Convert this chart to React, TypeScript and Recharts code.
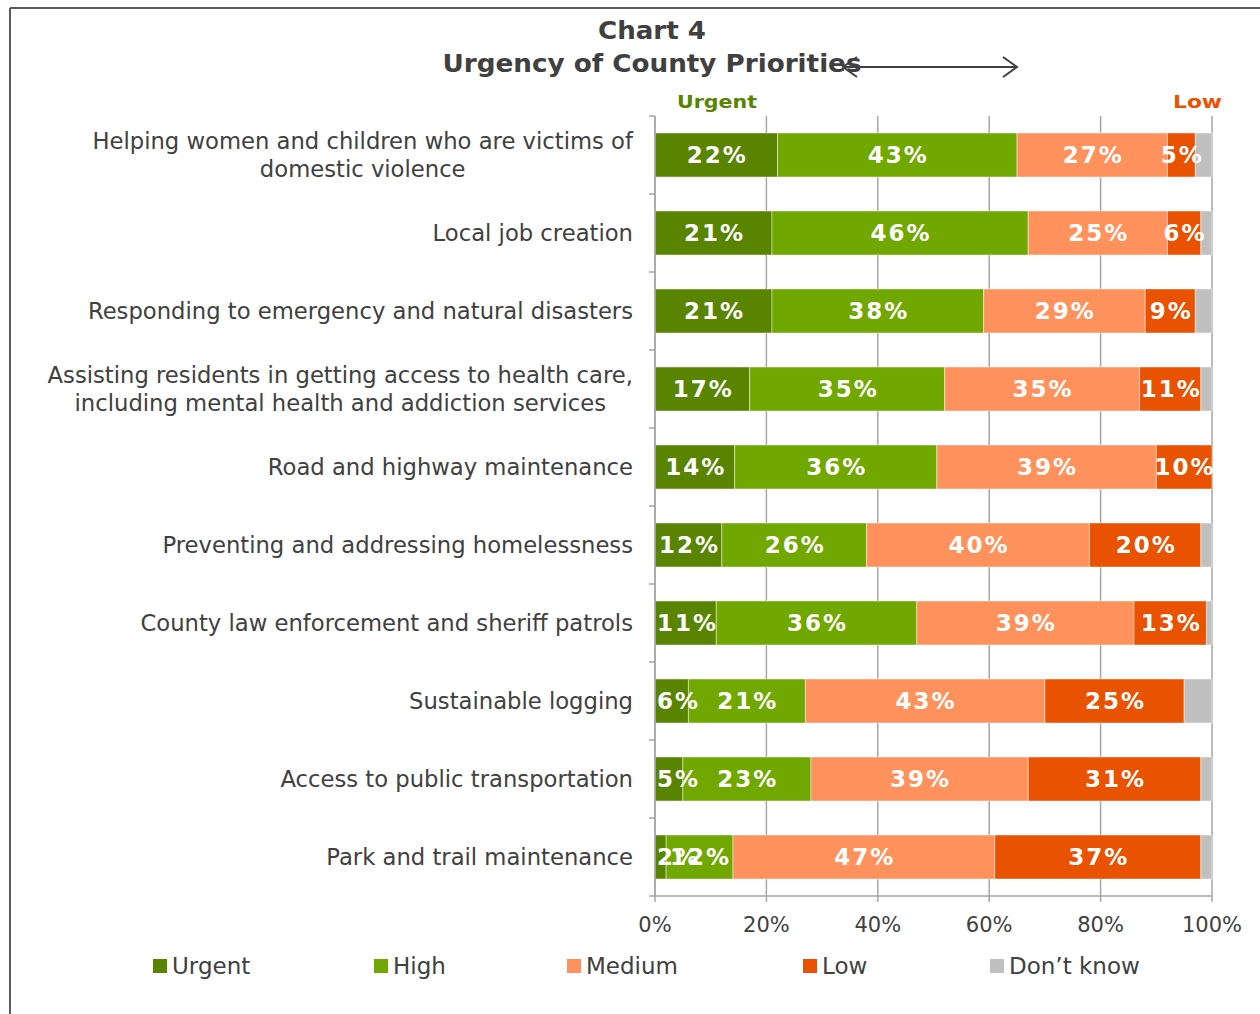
import React from "react";
import {
  BarChart,
  Bar,
  XAxis,
  YAxis,
  CartesianGrid,
  LabelList,
} from "recharts";

const FONT = '"DejaVu Sans", Verdana, sans-serif';
const TEXT = "#404040";
const GRID = "#a6a6a6";

const CATEGORIES = [
  "Helping women and children who are victims of\ndomestic violence",
  "Local job creation",
  "Responding to emergency and natural disasters",
  "Assisting residents in getting access to health care,\nincluding mental health and addiction services",
  "Road and highway maintenance",
  "Preventing and addressing homelessness",
  "County law enforcement and sheriff patrols",
  "Sustainable logging",
  "Access to public transportation",
  "Park and trail maintenance",
];

const URGENT = [22, 21, 21, 17, 14.3, 12, 11, 6, 5, 2];
const HIGH = [43, 46, 38, 35, 36.3, 26, 36, 21, 23, 12];
const MEDIUM = [27, 25, 29, 35, 39.4, 40, 39, 43, 39, 47];
const LOW = [5, 6, 9, 11, 10, 20, 13, 25, 31, 37];
const DONT_KNOW = [3, 2, 3, 2, 0, 2, 1, 5, 2, 2];

const X_TICKS = [0, 20, 40, 60, 80, 100];

const SERIES = [
  { key: "urgent", name: "Urgent", color: "#588400", values: URGENT, label: true },
  { key: "high", name: "High", color: "#71a800", values: HIGH, label: true },
  { key: "medium", name: "Medium", color: "#ff925c", values: MEDIUM, label: true },
  { key: "low", name: "Low", color: "#e85200", values: LOW, label: true },
  { key: "dk", name: "Don\u2019t know", color: "#c0c0c0", values: DONT_KNOW, label: false },
];

// legend item left edges, as laid out in the original
const LEGEND_X = [153, 374, 567, 803, 990];

const data = CATEGORIES.map((name, i) => {
  const row: Record<string, any> = { name };
  SERIES.forEach((s) => (row[s.key] = s.values[i]));
  return row;
});

let ctx: CanvasRenderingContext2D | null = null;
const measure = (text: string, font: string) => {
  if (!ctx) ctx = document.createElement("canvas").getContext("2d");
  if (!ctx) return text.length * 12;
  ctx.font = font;
  return ctx.measureText(text).width;
};

const BAND_HALF = 39;
const CAT_SIZE = 22.7;

const CategoryTick = ({ x, y, payload, index }: any) => {
  const lines = String(payload.value).split("\n");
  const font = `${CAT_SIZE}px ${FONT}`;
  const maxW = Math.max(...lines.map((l) => measure(l, font)));
  const cx = x - maxW / 2;
  const axisX = x + 22;
  return (
    <g>
      <line x1={axisX - 6} x2={axisX} y1={y - BAND_HALF} y2={y - BAND_HALF} stroke={GRID} strokeWidth={1.5} />
      {index === CATEGORIES.length - 1 && (
        <line x1={axisX - 6} x2={axisX} y1={y + BAND_HALF} y2={y + BAND_HALF} stroke={GRID} strokeWidth={1.5} />
      )}
      {lines.map((l, i) => (
        <text
          key={i}
          x={cx}
          y={y + (i - (lines.length - 1) / 2) * 28}
          textAnchor="middle"
          dominantBaseline="central"
          fontFamily={FONT}
          fontSize={CAT_SIZE}
          fill={TEXT}
        >
          {l}
        </text>
      ))}
    </g>
  );
};

const makeLabel = (clampLeft: boolean) => (props: any) => {
  const { x, y, width, height, value } = props;
  if (!value) return null;
  const txt = `${Math.round(Number(value))}%`;
  const w = measure(txt, `bold 23px ${FONT}`) + txt.length * 2;
  let cx = Number(x) + Number(width) / 2;
  if (clampLeft && cx - w / 2 < Number(x) + 1) cx = Number(x) + 1 + w / 2;
  return (
    <text
      x={cx + 1}
      y={Number(y) + Number(height) / 2}
      textAnchor="middle"
      dominantBaseline="central"
      fill="#ffffff"
      fontFamily={FONT}
      fontWeight="bold"
      fontSize={23}
      letterSpacing={2}
    >
      {txt}
    </text>
  );
};

export default function App() {
  return (
    <div style={{ position: "absolute", left: 0, top: 0, width: 1260, height: 1014, background: "#fff", fontFamily: FONT }}>
      <BarChart
        width={1260}
        height={1014}
        data={data}
        layout="vertical"
        margin={{ top: 116, right: 48, bottom: 88, left: 0 }}
        barCategoryGap={34}
      >
        <CartesianGrid horizontal={false} stroke={GRID} strokeWidth={1.5} />
        <XAxis
          type="number"
          domain={[0, 100]}
          ticks={X_TICKS}
          tickFormatter={(v) => `${v}%`}
          axisLine={{ stroke: GRID, strokeWidth: 1.5 }}
          tickLine={{ stroke: GRID, strokeWidth: 1.5 }}
          tickSize={6}
          tickMargin={15}
          tick={{ fill: TEXT, fontSize: 21, fontFamily: FONT }}
          height={30}
        />
        <YAxis
          type="category"
          dataKey="name"
          width={655}
          axisLine={{ stroke: GRID, strokeWidth: 1.5 }}
          tickLine={false}
          tickSize={6}
          tickMargin={16}
          tick={<CategoryTick />}
          interval={0}
        />
        {SERIES.map((s, si) => (
          <Bar
            key={s.key}
            dataKey={s.key}
            name={s.name}
            stackId="a"
            fill={s.color}
            barSize={44}
            stroke="rgba(255,255,255,0.45)"
            strokeWidth={1}
            isAnimationActive={false}
          >
            {s.label && <LabelList dataKey={s.key} content={makeLabel(si === 0)} />}
          </Bar>
        ))}
      </BarChart>

      <svg width={1260} height={1014} style={{ position: "absolute", left: 0, top: 0, pointerEvents: "none" }}>
        <line x1={10} y1={8} x2={1260} y2={8} stroke="#595959" strokeWidth={2} />
        <line x1={10} y1={8} x2={10} y2={1014} stroke="#595959" strokeWidth={2} />
        <text x={652} y={39} textAnchor="middle" fontFamily={FONT} fontWeight="bold" fontSize={24} fill={TEXT} textLength={108} lengthAdjust="spacingAndGlyphs">
          Chart 4
        </text>
        <text x={652} y={72} textAnchor="middle" fontFamily={FONT} fontWeight="bold" fontSize={24} fill={TEXT} textLength={419} lengthAdjust="spacingAndGlyphs">
          Urgency of County Priorities
        </text>
        <g stroke={TEXT} strokeWidth={2} fill="none">
          <line x1={843} y1={67} x2={1017} y2={67} />
          <polyline points="857,57 843,67 857,77" />
          <polyline points="1003,57 1017,67 1003,77" />
        </g>
        <text x={677} y={108} fontFamily={FONT} fontWeight="bold" fontSize={18} fill="#588400" textLength={80} lengthAdjust="spacingAndGlyphs">
          Urgent
        </text>
        <text x={1173} y={108} fontFamily={FONT} fontWeight="bold" fontSize={18} fill="#e85200" textLength={49} lengthAdjust="spacingAndGlyphs">
          Low
        </text>
      </svg>

      {SERIES.map((s, i) => (
        <div
          key={s.key}
          style={{ position: "absolute", left: LEGEND_X[i], top: 952, height: 28, display: "flex", alignItems: "center", whiteSpace: "nowrap" }}
        >
          <span style={{ display: "inline-block", width: 14, height: 14, background: s.color, marginRight: 5 }} />
          <span style={{ fontSize: 23, color: TEXT, fontFamily: FONT }}>{s.name}</span>
        </div>
      ))}
    </div>
  );
}
